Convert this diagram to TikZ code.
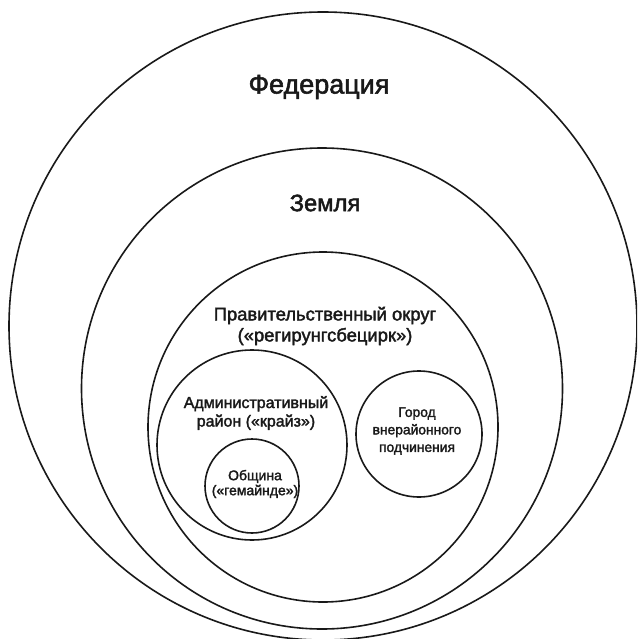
\documentclass[tikz,border=0pt]{standalone}
\usepackage{fontspec}
\setmainfont{Liberation Sans}[RawFeature={embolden=2}]
\begin{document}
\begin{tikzpicture}[x=1pt,y=-1pt,
  ring/.style={draw=black!90,line width=1.6pt,circle,inner sep=0pt,minimum size=#1},
  lbl/.style={align=center,inner sep=0pt,text=black!90}]
\useasboundingbox (0,0) rectangle (637,639);
\begin{scope}
\clip (0,0) rectangle (637,639);
\node[ring=628pt] (fed) at (323,326) {};
\node[ring=481pt] (land) at (322,388.5) {};
\node[ring=350pt] (gov) at (323,427) {};
\node[ring=190pt] (adm) at (252,445) {};
\node[ring=94pt] (com) at (252,486) {};
\node[ring=126pt] (city) at (419,434) {};
\end{scope}
\node[lbl,font=\fontsize{27}{32}\selectfont] (tfed) at (319,87) {Федерация};
\node[lbl,font=\fontsize{23.7}{28}\selectfont] (tland) at (325,203) {Земля};
\node[lbl,font=\fontsize{18.4}{21}\selectfont] (tgov) at (325,326) {Правительственный округ\\(«регирунгсбецирк»)};
\node[lbl,font=\fontsize{16}{18.5}\selectfont] (tadm) at (256,413) {Административный\\район («крайз»)};
\node[lbl,font=\fontsize{14}{15}\selectfont] (tcom) at (255,484) {Община\\(«гемайнде»)};
\node[lbl,font=\fontsize{13.8}{17.5}\selectfont] (tcity) at (417,431) {Город\\внерайонного\\подчинения};
\end{tikzpicture}
\end{document}
